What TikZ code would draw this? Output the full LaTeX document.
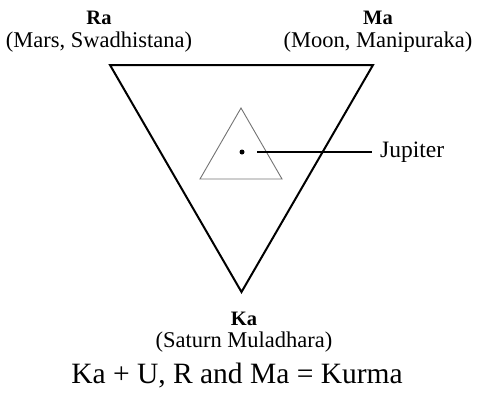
\documentclass[tikz,border=0pt]{standalone}
\usepackage{fontspec}
\setmainfont{Liberation Serif}
\newcommand{\vlabel}[2]{{\fontsize{20.5}{24}\selectfont\bfseries #1}\\[-3.5pt]{\fontsize{22.5}{26}\selectfont #2}}
\begin{document}
\begin{tikzpicture}[x=1pt,y=-1pt,
  lbl/.style={inner sep=0pt,anchor=base,align=center,font=\fontsize{22.5}{26}\selectfont},
  biglbl/.style={inner sep=0pt,anchor=base,font=\fontsize{29.5}{34}\selectfont},
  bigtri/.style={line width=2pt,line join=miter},
  smalltri/.style={draw=black!55,line width=0.9pt},
  pointer/.style={line width=1.5pt}]
\useasboundingbox (0,0) rectangle (479,402);
% big triangle
\coordinate (A) at (110,65);
\coordinate (B) at (373,65);
\coordinate (C) at (241.5,292);
\draw[bigtri] (A) -- (B) -- (C) -- cycle;
% small triangle
\coordinate (a) at (241,108);
\coordinate (b) at (282,179);
\coordinate (c) at (200,179);
\draw[smalltri] (a) -- (b) -- (c) -- cycle;
% dot and pointer
\node[circle,fill=black,inner sep=0pt,minimum size=5pt] (dot) at (242,152) {};
\coordinate (ps) at (257,152);
\node[inner sep=0pt,anchor=base west,font=\fontsize{23.5}{26}\selectfont] (jup) at (380,157.5) {Jupiter};
\coordinate (pe) at (372,152);
\draw[pointer] (ps) -- (pe);
% labels
\node[lbl] (ra) at (99,47) {\vlabel{Ra}{(Mars, Swadhistana)}};
\node[lbl] (ma) at (378,47) {\vlabel{Ma}{(Moon, Manipuraka)}};
\node[lbl] (ka) at (244,347.5) {\vlabel{Ka}{(Saturn Muladhara)}};
\node[biglbl] (eq) at (237,383) {Ka + U, R and Ma = Kurma};
\end{tikzpicture}
\end{document}
